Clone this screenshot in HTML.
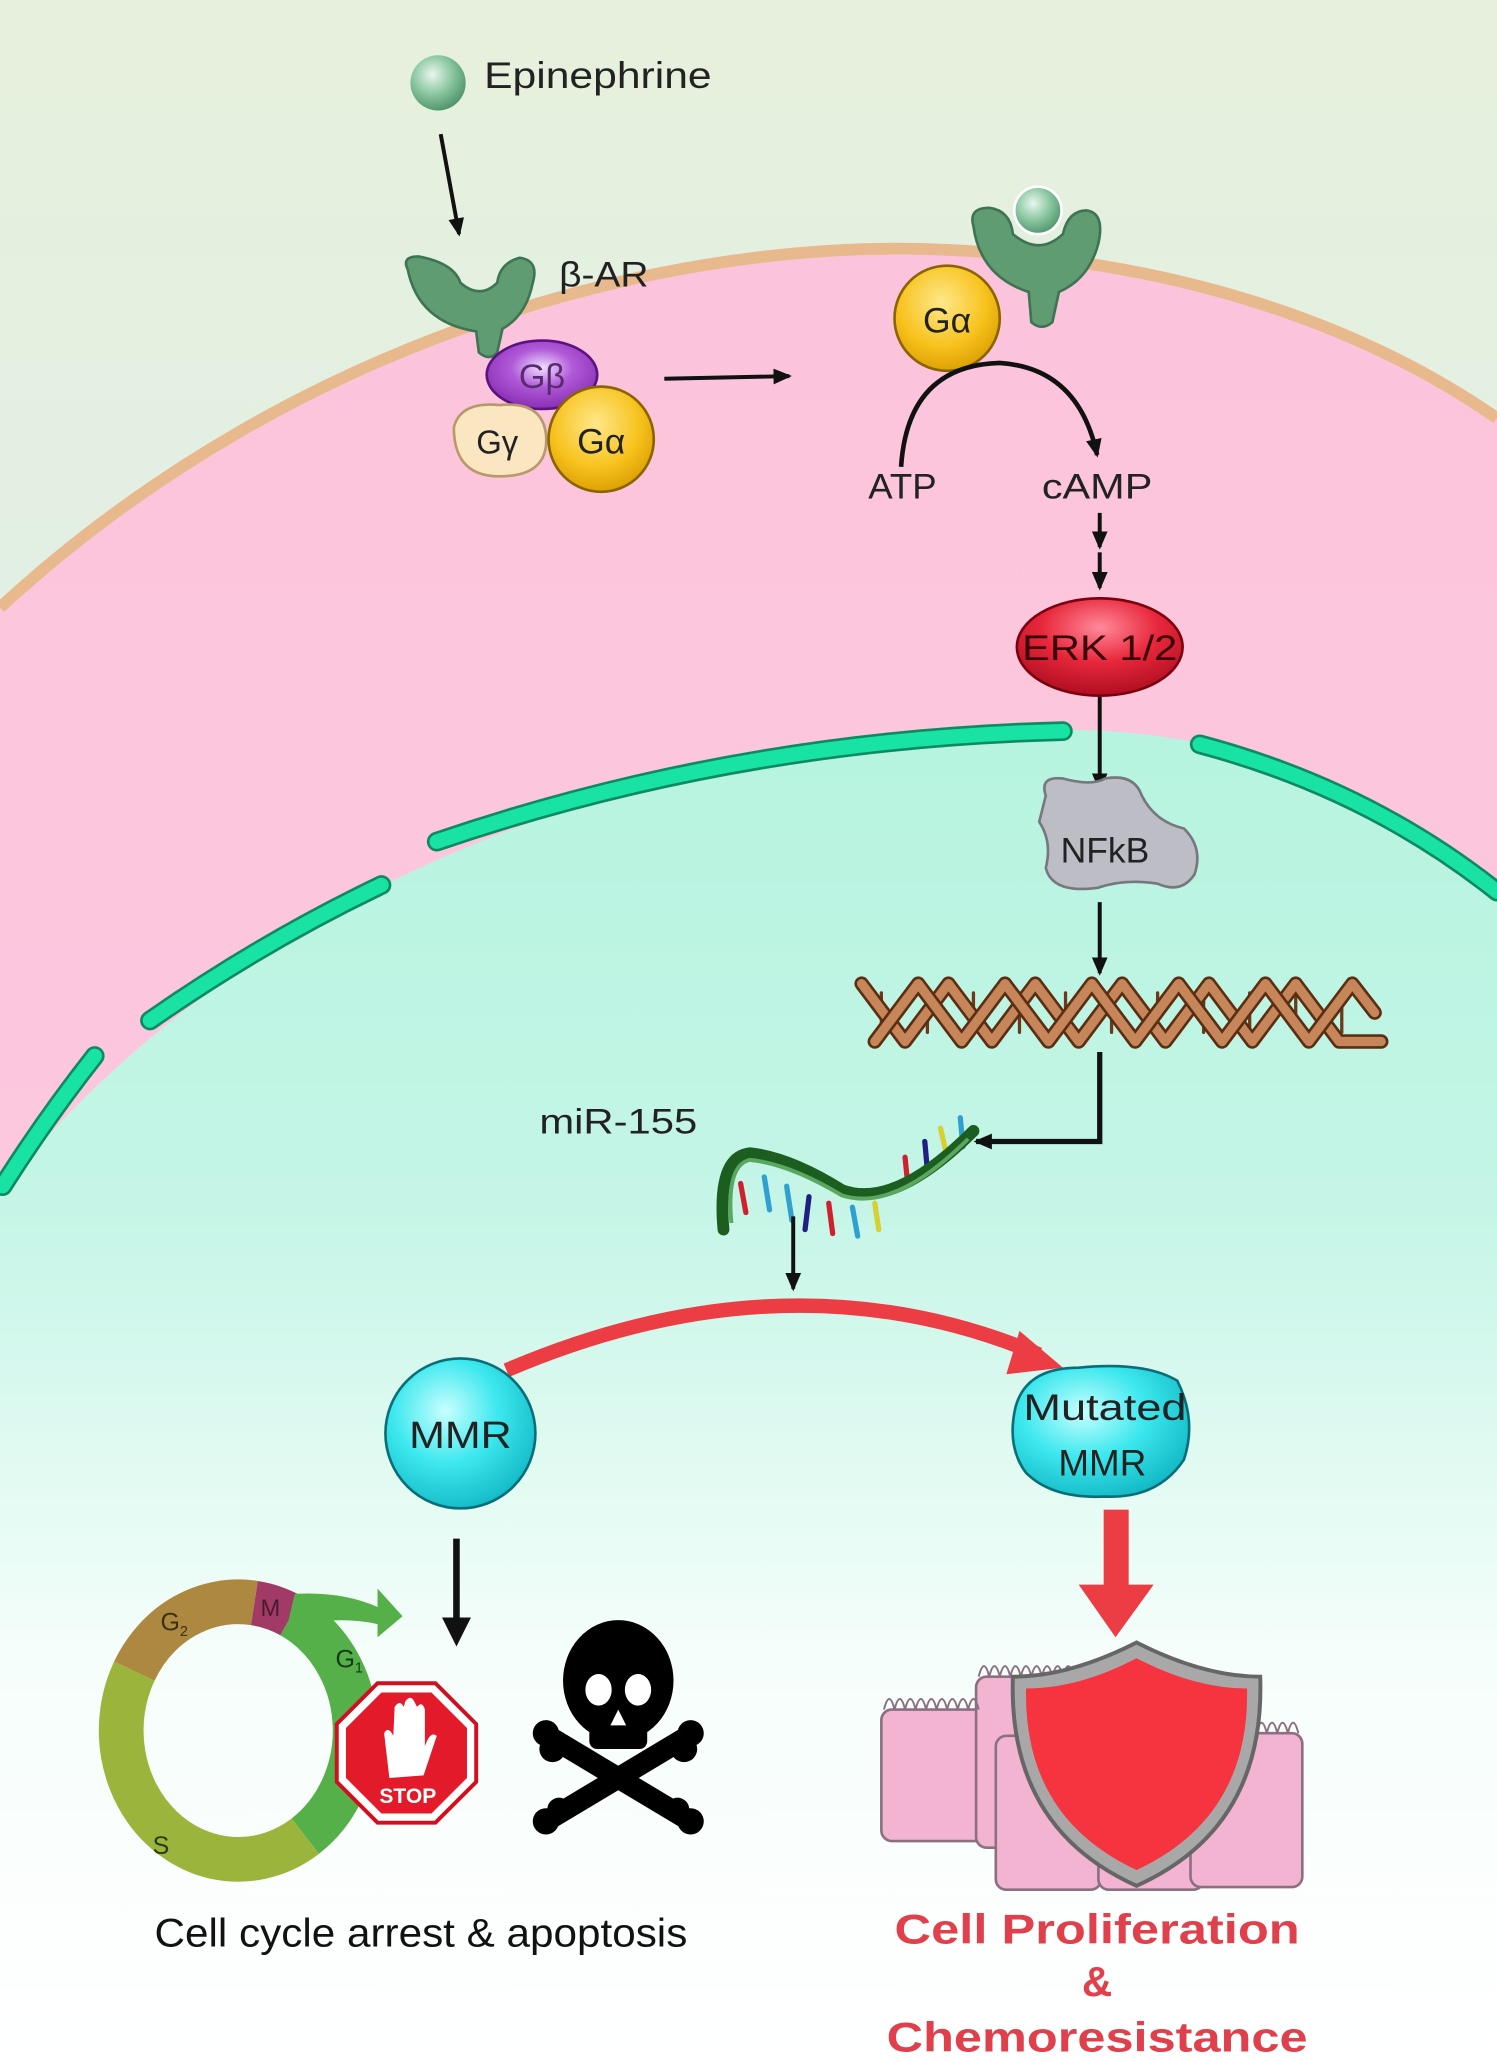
<!DOCTYPE html>
<html><head><meta charset="utf-8">
<style>
html,body{margin:0;padding:0;background:#fff;}
svg{display:block;}
text{font-family:"Liberation Sans","DejaVu Sans",sans-serif;}
</style></head>
<body>
<svg width="1497" height="2062" viewBox="0 0 1138 1568" preserveAspectRatio="none" xmlns="http://www.w3.org/2000/svg">
<defs>
<linearGradient id="bg" x1="0" y1="0" x2="0" y2="1">
<stop offset="0" stop-color="#e6f0dc"/><stop offset="0.3" stop-color="#e2efe4"/><stop offset="1" stop-color="#ffffff"/>
</linearGradient>
<linearGradient id="cyto" x1="0" y1="0" x2="0" y2="1">
<stop offset="0" stop-color="#fcc4dc"/><stop offset="0.55" stop-color="#fcc8de"/><stop offset="0.8" stop-color="#fff3f7"/><stop offset="1" stop-color="#ffffff"/>
</linearGradient>
<linearGradient id="nuc" x1="0" y1="0" x2="0" y2="1">
<stop offset="0" stop-color="#b6f4df"/><stop offset="0.35" stop-color="#c4f5e6"/><stop offset="0.7" stop-color="#f6fefb"/><stop offset="1" stop-color="#ffffff"/>
</linearGradient>
<radialGradient id="ball" cx="0.4" cy="0.35" r="0.7"><stop offset="0" stop-color="#e8f6ee"/><stop offset="0.5" stop-color="#8cc8a2"/><stop offset="1" stop-color="#4a8f68"/></radialGradient>
<radialGradient id="yel" cx="0.45" cy="0.35" r="0.7"><stop offset="0" stop-color="#ffe88a"/><stop offset="0.6" stop-color="#f7c21c"/><stop offset="1" stop-color="#d89a00"/></radialGradient>
<radialGradient id="pur" cx="0.5" cy="0.4" r="0.7"><stop offset="0" stop-color="#f0e0ff"/><stop offset="0.4" stop-color="#b05ad8"/><stop offset="1" stop-color="#7e1fa8"/></radialGradient>
<radialGradient id="red" cx="0.5" cy="0.3" r="0.7"><stop offset="0" stop-color="#ff8a9a"/><stop offset="0.5" stop-color="#e8283c"/><stop offset="1" stop-color="#b00e20"/></radialGradient>
<radialGradient id="cy" cx="0.4" cy="0.35" r="0.7"><stop offset="0" stop-color="#c8ffff"/><stop offset="0.5" stop-color="#3de8ee"/><stop offset="1" stop-color="#10b8c4"/></radialGradient>
<marker id="ah" markerWidth="14" markerHeight="12" refX="12" refY="6" orient="auto" markerUnits="userSpaceOnUse"><path d="M0,0 L14,6 L0,12 Z" fill="#111"/></marker>
</defs>
<rect width="1138" height="1568" fill="url(#bg)"/>
<path d="M0,462 C230,250 520,180 720,190 C900,198 1040,250 1138,318 L1138,1568 L0,1568 Z" fill="url(#cyto)"/>
<path d="M0,462 C230,250 520,180 720,190 C900,198 1040,250 1138,318" fill="none" stroke="#e9b98e" stroke-width="9"/>
<path d="M0,905 C160,710 420,565 800,555 C950,553 1060,610 1138,672 L1138,1568 L0,1568 Z" fill="url(#nuc)"/>
<g fill="none" stroke-linecap="round">
<g stroke="#0d8a62" stroke-width="15">
<path d="M2,902 Q35,850 72,803"/><path d="M114,776 Q200,716 290,673"/><path d="M332,640 Q560,562 808,556"/><path d="M912,566 Q1040,600 1138,678"/>
</g>
<g stroke="#18e3a4" stroke-width="11">
<path d="M2,902 Q35,850 72,803"/><path d="M114,776 Q200,716 290,673"/><path d="M332,640 Q560,562 808,556"/><path d="M912,566 Q1040,600 1138,678"/>
</g>
</g>
<circle cx="333" cy="63" r="21" fill="url(#ball)"/>
<text x="368" y="67" font-size="28" fill="#222" textLength="173" lengthAdjust="spacingAndGlyphs">Epinephrine</text>
<line x1="335" y1="102" x2="349" y2="178" stroke="#111" stroke-width="3" marker-end="url(#ah)"/>
<path d="M310,205 Q305,195 318,195 Q345,200 350,215 Q365,228 378,215 Q380,200 395,196 Q410,198 405,215 Q400,240 382,250 L378,268 Q372,275 364,268 L362,252 Q318,245 310,205 Z" fill="#5f9c72" stroke="#3f7452" stroke-width="2"/>
<text x="425" y="218" font-size="27" fill="#222" textLength="68" lengthAdjust="spacingAndGlyphs">β-AR</text>
<ellipse cx="412" cy="285" rx="42" ry="26" fill="url(#pur)" stroke="#5a1480" stroke-width="2"/>
<text x="412" y="295" font-size="26" fill="#5a2a70" text-anchor="middle">Gβ</text>
<path d="M345,325 Q350,305 380,308 Q412,305 415,330 Q418,360 385,362 Q345,365 345,325 Z" fill="#fae6c0" stroke="#b89a6a" stroke-width="2"/>
<text x="378" y="345" font-size="25" fill="#222" text-anchor="middle">Gγ</text>
<circle cx="457" cy="334" r="40" fill="url(#yel)" stroke="#8a6400" stroke-width="2"/>
<text x="457" y="345" font-size="27" fill="#222" text-anchor="middle">Gα</text>
<line x1="505" y1="288" x2="600" y2="286" stroke="#111" stroke-width="3" marker-end="url(#ah)"/>
<path d="M740,172 Q736,158 752,158 Q768,160 770,178 Q790,195 808,178 Q812,160 826,160 Q840,162 835,185 Q828,212 805,222 L800,245 Q792,252 784,245 L782,222 Q745,210 740,172 Z" fill="#5f9c72" stroke="#3f7452" stroke-width="2"/>
<circle cx="789" cy="160" r="18" fill="url(#ball)" stroke="#fff" stroke-width="2"/>
<circle cx="720" cy="242" r="40" fill="url(#yel)" stroke="#8a6400" stroke-width="2"/>
<text x="720" y="253" font-size="27" fill="#222" text-anchor="middle">Gα</text>
<path d="M685,355 Q690,278 760,276 Q820,280 834,346" fill="none" stroke="#111" stroke-width="3.5" marker-end="url(#ah)"/>
<text x="686" y="379" font-size="27" fill="#222" text-anchor="middle" textLength="52" lengthAdjust="spacingAndGlyphs">ATP</text>
<text x="834" y="379" font-size="27" fill="#222" text-anchor="middle" textLength="84" lengthAdjust="spacingAndGlyphs">cAMP</text>
<line x1="836" y1="390" x2="836" y2="416" stroke="#111" stroke-width="3" marker-end="url(#ah)"/>
<line x1="836" y1="420" x2="836" y2="447" stroke="#111" stroke-width="3" marker-end="url(#ah)"/>
<ellipse cx="836" cy="492" rx="63" ry="37" fill="url(#red)" stroke="#7a0010" stroke-width="2"/>
<text x="836" y="502" font-size="27" fill="#3a0008" text-anchor="middle" textLength="118" lengthAdjust="spacingAndGlyphs">ERK 1/2</text>
<line x1="836" y1="530" x2="836" y2="600" stroke="#111" stroke-width="3" marker-end="url(#ah)"/>
<path d="M795,605 Q790,590 808,592 Q830,598 840,592 Q862,588 868,605 Q878,625 900,630 Q915,645 908,665 Q898,680 880,672 Q855,668 835,675 Q800,680 795,660 Q800,640 790,625 Z" fill="#bdbdc6" stroke="#77777f" stroke-width="2"/>
<text x="840" y="656" font-size="27" fill="#222" text-anchor="middle">NFkB</text>
<line x1="836" y1="686" x2="836" y2="740" stroke="#111" stroke-width="3" marker-end="url(#ah)"/>
<g fill="none" stroke-linecap="round">
<g stroke="#6a3a1a" stroke-width="2.5">
<line x1="670" y1="755" x2="670" y2="785"/><line x1="705" y1="755" x2="705" y2="785"/><line x1="740" y1="755" x2="740" y2="785"/><line x1="775" y1="755" x2="775" y2="785"/><line x1="810" y1="755" x2="810" y2="785"/><line x1="845" y1="755" x2="845" y2="785"/><line x1="880" y1="755" x2="880" y2="785"/><line x1="915" y1="755" x2="915" y2="785"/><line x1="950" y1="755" x2="950" y2="785"/><line x1="985" y1="755" x2="985" y2="785"/><line x1="1020" y1="755" x2="1020" y2="785"/>
</g>
<path d="M655,748 L688,792 L721,748 L754,792 L787,748 L820,792 L853,748 L886,792 L919,748 L952,792 L985,748 L1018,792 L1050,792" stroke="#5a2e12" stroke-width="11" stroke-linejoin="round"/>
<path d="M655,748 L688,792 L721,748 L754,792 L787,748 L820,792 L853,748 L886,792 L919,748 L952,792 L985,748 L1018,792 L1050,792" stroke="#c7865a" stroke-width="7" stroke-linejoin="round"/>
<path d="M665,792 L698,748 L731,792 L764,748 L797,792 L830,748 L863,792 L896,748 L929,792 L962,748 L995,792 L1028,748 L1045,770" stroke="#5a2e12" stroke-width="11" stroke-linejoin="round"/>
<path d="M665,792 L698,748 L731,792 L764,748 L797,792 L830,748 L863,792 L896,748 L929,792 L962,748 L995,792 L1028,748 L1045,770" stroke="#c7865a" stroke-width="7" stroke-linejoin="round"/>
</g>
<polyline points="836,800 836,868 742,868" fill="none" stroke="#111" stroke-width="4" marker-end="url(#ah)"/>
<text x="470" y="862" font-size="27" fill="#222" text-anchor="middle" textLength="120" lengthAdjust="spacingAndGlyphs">miR-155</text>
<g stroke-width="4" stroke-linecap="round">
<line x1="563" y1="900" x2="567" y2="922" stroke="#d02030"/><line x1="581" y1="895" x2="585" y2="920" stroke="#30a0d0"/><line x1="598" y1="902" x2="602" y2="928" stroke="#30a0d0"/><line x1="615" y1="910" x2="612" y2="935" stroke="#202080"/><line x1="630" y1="915" x2="633" y2="938" stroke="#d02030"/><line x1="648" y1="918" x2="652" y2="940" stroke="#30a0d0"/><line x1="665" y1="915" x2="668" y2="935" stroke="#d8d030"/><line x1="690" y1="900" x2="688" y2="880" stroke="#d02030"/><line x1="705" y1="890" x2="703" y2="868" stroke="#202080"/><line x1="720" y1="880" x2="715" y2="858" stroke="#d8d030"/><line x1="732" y1="872" x2="730" y2="850" stroke="#30a0d0"/>
</g>
<path d="M550,935 Q545,880 570,877 Q600,880 640,905 Q680,920 740,860" fill="none" stroke="#1b5e20" stroke-width="9" stroke-linecap="round"/>
<path d="M556,930 Q552,886 570,882 Q600,885 640,909 Q680,922 736,866" fill="none" stroke="#5aa860" stroke-width="3"/>
<line x1="603" y1="925" x2="603" y2="980" stroke="#111" stroke-width="3" marker-end="url(#ah)"/>
<path d="M385,1042 Q600,950 790,1030" fill="none" stroke="#ec3c44" stroke-width="11"/>
<path d="M775,1012 L808,1040 L765,1045 Z" fill="#ec3c44"/>
<circle cx="350" cy="1090" r="57" fill="url(#cy)" stroke="#0a6e78" stroke-width="2"/>
<text x="350" y="1101" font-size="29" fill="#222" text-anchor="middle" textLength="78" lengthAdjust="spacingAndGlyphs">MMR</text>
<path d="M772,1070 Q780,1040 820,1040 Q870,1035 895,1050 Q910,1080 900,1110 Q880,1140 840,1138 Q800,1140 780,1120 Q765,1100 772,1070 Z" fill="url(#cy)" stroke="#0a6e78" stroke-width="2"/>
<text x="840" y="1080" font-size="28" fill="#222" text-anchor="middle" textLength="124" lengthAdjust="spacingAndGlyphs">Mutated</text>
<text x="838" y="1122" font-size="28" fill="#222" text-anchor="middle">MMR</text>
<line x1="347" y1="1170" x2="347" y2="1240" stroke="#111" stroke-width="5"/>
<path d="M336,1230 L358,1230 L347,1252 Z" fill="#111"/>
<rect x="839" y="1148" width="19" height="60" fill="#ec3c44"/>
<path d="M820,1205 L877,1205 L848,1245 Z" fill="#ec3c44"/>
<g fill="none" stroke-width="34">
<path d="M221.4,1228.7 A89,98 0 0 1 232,1396.3" stroke="#55b04a"/>
<path d="M232,1396.3 A89,98 0 0 1 102.1,1270.8" stroke="#9bb53c"/>
<path d="M102.1,1270.8 A89,98 0 0 1 193.4,1219" stroke="#ad8840"/>
<path d="M193.4,1219 A89,98 0 0 1 221.4,1228.7" stroke="#a23a66"/>
</g>
<path d="M224,1212 Q260,1210 287,1222 L287,1208 L306,1229 L287,1245 L287,1235 Q255,1228 218,1238 Z" fill="#55b04a"/>
<text x="198" y="1229" font-size="18" fill="#4a1a30">M</text>
<text x="122" y="1240" font-size="19" fill="#3a3018">G<tspan font-size="11" dy="4">2</tspan></text>
<text x="255" y="1268" font-size="19" fill="#143a14">G<tspan font-size="11" dy="4">1</tspan></text>
<text x="116" y="1410" font-size="19" fill="#2a3a10">S</text>
<polygon points="287,1280 331,1280 362,1311 362,1355 331,1386 287,1386 256,1355 256,1311" fill="#fff" stroke="#d01020" stroke-width="3"/>
<polygon points="290,1287 328,1287 355,1314 355,1352 328,1379 290,1379 263,1352 263,1314" fill="#e21a2a"/>
<path d="M296,1352 L292,1318 Q295,1312 299,1320 L300,1298 Q304,1292 307,1298 L308,1294 Q312,1288 315,1294 L317,1298 Q321,1293 323,1300 L323,1328 Q327,1316 332,1320 L322,1350 Z" fill="#fff"/>
<text x="310" y="1371" font-size="16" font-weight="bold" fill="#fff" text-anchor="middle">STOP</text>
<ellipse cx="470" cy="1278" rx="42" ry="46" fill="#000"/>
<rect x="448" y="1300" width="44" height="30" rx="6" fill="#000"/>
<ellipse cx="455" cy="1285" rx="10" ry="12" fill="#fff"/><ellipse cx="485" cy="1285" rx="10" ry="12" fill="#fff"/>
<path d="M470,1300 L464,1312 L476,1312 Z" fill="#fff"/>
<g stroke="#000" stroke-width="16" stroke-linecap="round">
<line x1="420" y1="1322" x2="520" y2="1382"/><line x1="520" y1="1322" x2="420" y2="1382"/>
</g>
<g fill="#000"><circle cx="415" cy="1318" r="10"/><circle cx="420" cy="1330" r="10"/><circle cx="525" cy="1318" r="10"/><circle cx="520" cy="1330" r="10"/><circle cx="415" cy="1385" r="10"/><circle cx="425" cy="1376" r="9"/><circle cx="525" cy="1385" r="10"/><circle cx="515" cy="1376" r="9"/></g>
<text x="320" y="1480" font-size="30" fill="#111" text-anchor="middle" textLength="405" lengthAdjust="spacingAndGlyphs">Cell cycle arrest &amp; apoptosis</text>
<g stroke="#8a7080" stroke-width="2">
<rect x="670" y="1300" width="80" height="100" rx="8" fill="#f2b4d0"/>
<rect x="742" y="1275" width="80" height="130" rx="8" fill="#f2b4d0"/>
<rect x="757" y="1320" width="80" height="117" rx="8" fill="#f2b4d0"/>
<rect x="835" y="1320" width="80" height="117" rx="8" fill="#f2b4d0"/>
<rect x="905" y="1318" width="85" height="117" rx="8" fill="#f2b4d0"/>
</g>
<path d="M672,1300 q4,-16 8,0 q4,-16 8,0 q4,-16 8,0 q4,-16 8,0 q4,-16 8,0 q4,-16 8,0 q4,-16 8,0 q4,-16 8,0 q4,-16 8,0 M744,1275 q4,-16 8,0 q4,-16 8,0 q4,-16 8,0 q4,-16 8,0 q4,-16 8,0 q4,-16 8,0 q4,-16 8,0 q4,-16 8,0 q4,-16 8,0 M907,1318 q4,-16 8,0 q4,-16 8,0 q4,-16 8,0 q4,-16 8,0 q4,-16 8,0 q4,-16 8,0 q4,-16 8,0 q4,-16 8,0 q4,-16 8,0 q4,-16 8,0" fill="none" stroke="#8a7080" stroke-width="1.5"/>
<path d="M864,1249 Q915,1275 958,1275 Q962,1390 864,1434 Q766,1390 770,1275 Q813,1275 864,1249 Z" fill="#a8a8a8" stroke="#666" stroke-width="3"/>
<path d="M864,1261 Q908,1284 948,1284 Q950,1382 864,1422 Q778,1382 780,1284 Q820,1284 864,1261 Z" fill="#f5343f"/>
<text x="834" y="1478" font-size="32" font-weight="bold" fill="#e0404c" text-anchor="middle" textLength="308" lengthAdjust="spacingAndGlyphs">Cell Proliferation</text>
<text x="834" y="1518" font-size="32" font-weight="bold" fill="#e0404c" text-anchor="middle">&amp;</text>
<text x="834" y="1560" font-size="32" font-weight="bold" fill="#e0404c" text-anchor="middle" textLength="320" lengthAdjust="spacingAndGlyphs">Chemoresistance</text>
</svg>
</body></html>
